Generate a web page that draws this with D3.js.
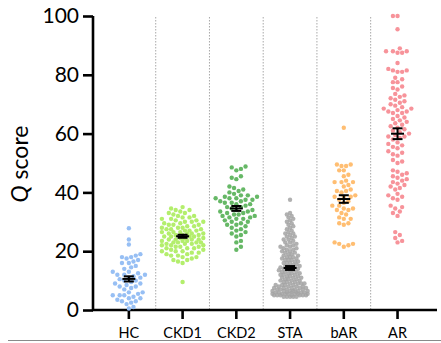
<!DOCTYPE html>
<html>
<head>
<meta charset="utf-8">
<script src="https://cdn.jsdelivr.net/npm/d3@7"></script>
<style>
  html, body { margin: 0; padding: 0; background: #fff; }
  svg { display: block; font-family: Lato, 'Open Sans', sans-serif; }
</style>
</head>
<body>
<div id="chart"></div>
<script>
// 分组
const categories = ['HC', 'CKD1', 'CKD2', 'STA', 'bAR', 'AR'];
const colors = ['#97bff4', '#b3ee6c', '#66b866', '#a3a3a3', '#ffbe72', '#f7939a'];
const yTicks = [0, 20, 40, 60, 80, 100];

// 每组的 Q score
const hcValues = [27.8, 24, 22.3, 19, 18.5, 18, 18, 17.5, 17, 16.5, 16, 16, 15, 14.5, 14, 13, 13, 12.5, 12, 12, 12,
    11.5, 11, 11, 10.5, 10, 10, 9.5, 9, 9, 8.5, 8, 8, 7.5, 7, 6, 6, 5.5, 5, 5, 5, 4.5, 4, 4, 3.5, 3, 3, 2.5, 2, 1, 0.5];
const ckd1Values = [35, 34.5, 34, 34, 33.5, 33, 33, 32.5, 32, 32, 31.5, 31.5, 31, 31, 30.5, 30.5, 30, 30, 30, 29.5,
    29.5, 29, 29, 29, 28.5, 28.5, 28, 28, 28, 27.5, 27.5, 27.5, 27, 27, 27, 26.5, 26.5, 26.5, 26, 26, 26, 26, 25.5,
    25.5, 25.5, 25, 25, 25, 25, 24.5, 24.5, 24.5, 24, 24, 24, 24, 23.5, 23.5, 23.5, 23, 23, 23, 23, 22.5, 22.5, 22.5,
    22, 22, 22, 21.5, 21.5, 21.5, 21, 21, 21, 20.5, 20.5, 20, 20, 20, 19.5, 19.5, 19, 19, 18.5, 18.5, 18, 18, 17.5,
    17, 17, 16.5, 16, 9.5];
const ckd2Values = [48.8, 48.5, 48, 47.5, 45.5, 45, 44.5, 42, 41.5, 41, 40.5, 40, 39.5, 39, 39, 38.5, 38.5, 38, 38,
    38, 37.5, 37.5, 37, 37, 36.5, 36.5, 36, 36, 35.5, 35, 35, 34.5, 34, 34, 33.5, 33.5, 33, 33, 32.5, 32.5, 32, 32,
    31.5, 31.5, 31, 31, 30.5, 30, 30, 29.5, 29, 29, 28.5, 28, 27.5, 27, 26.5, 26, 25.5, 25, 23.5, 23, 21.5, 20.5];
const staValues = [37.5, 33, 32.5, 32, 31.5, 31, 30.5, 30, 29.5, 29, 28.5, 28, 27.5, 27, 26.5, 26, 26, 25.5, 25, 25,
    24.5, 24, 24, 23.5, 23, 23, 22.5, 22, 22, 21.5, 21.5, 21, 21, 20.5, 20.5, 20, 20, 19.5, 19.5, 19, 19, 18.5, 18.5,
    18, 18, 18, 17.5, 17.5, 17, 17, 17, 16.5, 16.5, 16, 16, 16, 15.5, 15.5, 15, 15, 15, 14.5, 14.5, 14.5, 14, 14, 14,
    13.5, 13.5, 13.5, 13, 13, 13, 12.5, 12.5, 12.5, 12, 12, 12, 11.5, 11.5, 11.5, 11, 11, 11, 10.5, 10.5, 10.5, 10,
    10, 10, 9.5, 9.5, 9.5, 9, 9, 9, 9, 8.5, 8.5, 8.5, 8.5, 8, 8, 8, 8, 7.5, 7.5, 7.5, 7.5, 7.5, 7, 7, 7, 7, 7, 6.5,
    6.5, 6.5, 6.5, 6.5, 6.5, 6, 6, 6, 6, 6, 6, 6, 5.5, 5.5, 5.5, 5.5, 5.5, 5.5, 5.5, 5, 5, 5, 5, 5, 5, 5, 4.5, 4.5,
    4.5, 4.5, 4.5];
const barValues = [62, 49.5, 49.5, 49, 49, 47.5, 47.5, 46, 45.5, 44, 43.5, 43.5, 43.5, 42.5, 42, 41, 40.5, 40.5, 40,
    39, 38.5, 38.5, 38.5, 37.5, 37, 36.5, 35.5, 35.5, 34.5, 34.5, 34, 34, 33, 32.5, 31.5, 31, 31, 29.5, 29.5, 29,
    23, 22.5, 22.5, 22, 21.5];
const arValues = [100, 100, 95.5, 89, 88, 88, 88, 87.5, 87.5, 84, 82, 81.5, 81.5, 81, 81, 79, 78.5, 77.5, 77.5, 76,
    75.5, 75, 73.5, 73, 72.5, 72, 71.5, 71, 70.5, 70, 69.5, 69, 68.5, 68.5, 68, 67.5, 67.5, 67, 67, 66, 65.5, 65,
    64.5, 64, 63.5, 63, 62.5, 62, 61.5, 61, 60.5, 60, 59.5, 59, 59, 58.5, 58, 57, 56.5, 56, 55.5, 55, 54, 53.5, 53,
    52.5, 51, 50.5, 50, 47.5, 47, 46.5, 46, 45.5, 45, 44.5, 44, 43.5, 43, 42.5, 42, 41.5, 41, 39.5, 39, 38.5, 38,
    37.5, 35.5, 35, 34.5, 33.5, 33, 32, 26.5, 25.5, 24.5, 23.5, 23];

const groupValues = [hcValues, ckd1Values, ckd2Values, staValues, barValues, arValues];

const width = 441;
const height = 343;

const svg = d3.select('#chart')
    .append('svg')
    .attr('width', width)
    .attr('height', height);

// 尺度
const yScale = d3.scaleLinear()
    .domain([0, 100])
    .range([310, 16]);

const xScale = d3.scaleBand()
    .domain(categories)
    .range([102, 424.4]);

// 分隔虚线
svg.append('g')
    .selectAll('line')
    .data(categories.slice(1))
    .join('line')
    .attr('x1', (d) => xScale(d))
    .attr('x2', (d) => xScale(d))
    .attr('y1', yScale(100) + 1)
    .attr('y2', yScale(0))
    .attr('stroke', '#a8a8a8')
    .attr('stroke-width', 1)
    .attr('stroke-dasharray', '1.5,1.5');

// 坐标轴
const yAxis = d3.axisLeft(yScale)
    .tickValues(yTicks)
    .tickSize(10)
    .tickPadding(4);
const gy = svg.append('g')
    .attr('transform', 'translate(93, 0)')
    .call(yAxis);
gy.select('.domain').attr('d', `M0,${yScale(100)}V${yScale(0)}`);
gy.selectAll('.domain, line').attr('stroke', '#000').attr('stroke-width', 2.6);
gy.selectAll('text')
    .attr('font-size', 21)
    .attr('font-family', 'Lato, sans-serif')
    .attr('fill', '#000');

const xAxis = d3.axisBottom(xScale)
    .tickSize(9)
    .tickPadding(9);
const gx = svg.append('g')
    .attr('transform', `translate(0, ${yScale(0)})`)
    .call(xAxis);
gx.select('.domain').attr('d', 'M92,0H437');
gx.selectAll('.domain, line').attr('stroke', '#000').attr('stroke-width', 2.6);
gx.selectAll('text')
    .attr('font-size', 14.5)
    .attr('font-family', 'Lato, sans-serif')
    .attr('fill', '#000');

// y 轴标题
svg.append('text')
    .attr('transform', 'translate(28, 164) rotate(-90)')
    .attr('text-anchor', 'middle')
    .attr('font-size', 23)
    .attr('font-family', 'Lato, sans-serif')
    .call((t) => {
        t.append('tspan').attr('font-style', 'italic').text('Q');
        t.append('tspan').text(' score');
    });

// 底部细线
svg.append('line')
    .attr('x1', 8)
    .attr('x2', width)
    .attr('y1', 340.5)
    .attr('y2', 340.5)
    .attr('stroke', '#8a8a8a')
    .attr('stroke-width', 1);

// 蜂群排布
function swarm (values, cx, minDist, maxHalf, step) {
    const placed = [];
    const sorted = values.slice().sort((a, b) => a - b);
    sorted.forEach((v) => {
        const y = yScale(v);
        let best = null;
        let bestDist = -1;
        const maxK = Math.floor(maxHalf / step);
        for (let k = 0; k <= maxK; k++) {
            const offsets = k === 0 ? [0] : (placed.length % 2 ? [k * step, -k * step] : [-k * step, k * step]);
            for (const o of offsets) {
                const x = cx + o;
                let dmin = Infinity;
                for (const p of placed) {
                    const d = Math.hypot(p.x - x, p.y - y);
                    if (d < dmin) dmin = d;
                }
                if (dmin >= minDist) {
                    best = x;
                    bestDist = Infinity;
                    break;
                }
                if (dmin > bestDist) {
                    bestDist = dmin;
                    best = x;
                }
            }
            if (bestDist === Infinity) break;
        }
        placed.push({ x: best, y: y, v: v });
    });
    return placed;
}

const dotsLayer = svg.append('g');
const barsLayer = svg.append('g');

groupValues.forEach((values, i) => {
    const cat = categories[i];
    const cx = xScale(cat) + xScale.bandwidth() / 2;
    const isSta = cat === 'STA';
    const pts = swarm(values, cx, isSta ? 3.1 : 4.6, isSta ? 18 : 22, isSta ? 1.6 : 2.3);

    dotsLayer.append('g')
        .selectAll('circle')
        .data(pts)
        .join('circle')
        .attr('cx', (d) => d.x)
        .attr('cy', (d) => d.y)
        .attr('r', 2.2)
        .attr('fill', colors[i])
        .attr('fill-opacity', isSta ? 0.85 : 1);

    // 均值 ± SEM
    const mean = d3.mean(values);
    const sem = d3.deviation(values) / Math.sqrt(values.length);
    const g = barsLayer.append('g').attr('stroke', '#000').attr('stroke-width', 2);
    g.append('line')
        .attr('x1', cx - 6.5).attr('x2', cx + 6.5)
        .attr('y1', yScale(mean)).attr('y2', yScale(mean));
    g.append('line')
        .attr('x1', cx).attr('x2', cx)
        .attr('y1', yScale(mean + sem)).attr('y2', yScale(mean - sem));
    [mean + sem, mean - sem].forEach((v) => {
        g.append('line')
            .attr('x1', cx - 5).attr('x2', cx + 5)
            .attr('y1', yScale(v)).attr('y2', yScale(v));
    });
});
</script>
</body>
</html>
